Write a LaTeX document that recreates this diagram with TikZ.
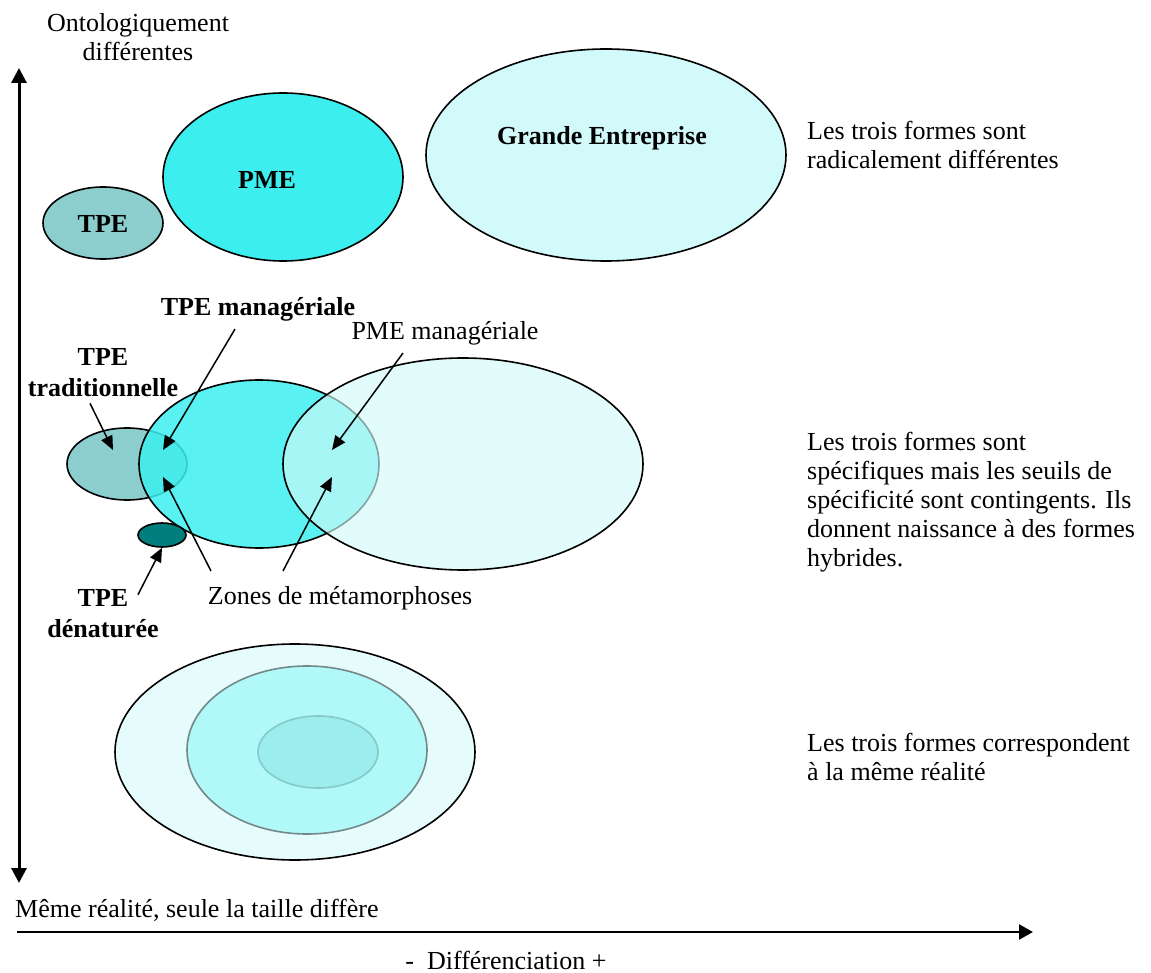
\documentclass[tikz,border=0pt]{standalone}
\usepackage{fontspec}
\setmainfont{Liberation Serif}
\usepackage{xcolor}
\usepackage{tikz}
\usetikzlibrary{shapes.geometric, arrows.meta}
\definecolor{tpefill}{RGB}{140,205,205}
\definecolor{pmefill}{RGB}{60,238,238}
\definecolor{gefill}{RGB}{210,250,250}
\definecolor{denfill}{RGB}{0,125,125}
\tikzstyle{blob} = [ellipse, draw=black, line width=1.6pt, inner sep=0pt]
\tikzstyle{tpeblob} = [blob, fill=tpefill, minimum width=120pt, minimum height=72pt]
\tikzstyle{pmeblob} = [blob, fill=pmefill, minimum width=240pt, minimum height=168pt]
\tikzstyle{geblob} = [blob, fill=gefill, minimum width=360pt, minimum height=212pt]
\tikzstyle{txt} = [inner sep=0pt, align=center, font=\fontsize{26}{29}\selectfont]
\tikzstyle{boldtxt} = [txt, font=\fontsize{26}{31}\selectfont\bfseries]
\tikzstyle{sidetxt} = [txt, align=left, anchor=west]
\tikzstyle{pointer} = [line width=1.5pt, -{Triangle[length=14pt, width=12pt]}]
\tikzstyle{axis} = [line width=3pt, {Triangle[length=15pt, width=15pt]}-{Triangle[length=15pt, width=15pt]}]
\tikzstyle{haxis} = [line width=2.4pt, -{Triangle[length=14pt, width=15pt]}]

\begin{document}
\begin{tikzpicture}[x={(1pt,0)}, y={(0,-1pt)}]
\useasboundingbox (0,0) rectangle (1151,973);

% axes
\coordinate (vtop) at (19,68);
\coordinate (vbot) at (19,883);
\coordinate (hleft) at (17,932);
\coordinate (hright) at (1033,932);
\draw [axis] (vbot) -- (vtop);
\draw [haxis] (hleft) -- (hright);
\node (onto) [txt] at (138,37) {Ontologiquement\\différentes};
\node (meme) [sidetxt] at (15,910) {Même réalité, seule la taille diffère};
\node (diff) [txt] at (506,960) {-\ \ Différenciation +};

% top row
\node (tpe) [tpeblob] at (103,223) {};
\node (pme) [pmeblob] at (283,177) {};
\node (ge) [geblob] at (606,155) {};
\node (tpelbl) [boldtxt] at (103,224) {TPE};
\node (pmelbl) [boldtxt] at (267,180) {PME};
\node (gelbl) [boldtxt] at (602,138) {Grande Entreprise};
\node (rowa) [sidetxt] at (807,145) {Les trois formes sont\\radicalement différentes};

% middle row
\node (tpemid) [tpeblob] at (127,464) {};
\node (pmemid) [pmeblob, fill opacity=0.85] at (259,464) {};
\node (gemid) [geblob, fill opacity=0.65] at (463,464) {};
\node (denblob) [blob, fill=denfill, minimum width=48pt, minimum height=24pt] at (162,535) {};
\node (trad) [boldtxt] at (103,373) {TPE\\traditionnelle};
\node (tpem) [boldtxt] at (258,309) {TPE managériale};
\node (pmem) [txt] at (445,333) {PME managériale};
\node (zones) [txt] at (340,598) {Zones de métamorphoses};
\node (den) [boldtxt] at (103,614) {TPE\\dénaturée};
\node (rowb) [sidetxt] at (807,502) {Les trois formes sont\\spécifiques mais les seuils de\\spécificité sont contingents. Ils\\donnent naissance à des formes\\hybrides.};

\coordinate (tradtip) at (113,450);
\coordinate (tpemtip) at (163,450);
\coordinate (pmemtip) at (332,450);
\coordinate (zonetipa) at (163,477);
\coordinate (zonetipb) at (332,477);
\draw [pointer] ([xshift=-13pt, yshift=-6pt]trad.south) -- (tradtip);
\draw [pointer] ([xshift=-23pt, yshift=-8pt]tpem.south) -- (tpemtip);
\draw [pointer] ([xshift=-42pt, yshift=-8pt]pmem.south) -- (pmemtip);
\draw [pointer] ([xshift=-129pt, yshift=15pt]zones.north) -- (zonetipa);
\draw [pointer] ([xshift=-57pt, yshift=15pt]zones.north) -- (zonetipb);
\draw [pointer] ([xshift=35pt, yshift=-5pt]den.north) -- (denblob.south);

% bottom row
\node (tpelow) [tpeblob] at (318,752) {};
\node (pmelow) [pmeblob, fill opacity=0.6] at (307,750) {};
\node (gelow) [geblob, fill opacity=0.55, minimum height=216pt] at (295,752) {};
\node (rowc) [sidetxt] at (807,757) {Les trois formes correspondent\\à la même réalité};

\end{tikzpicture}
\end{document}
